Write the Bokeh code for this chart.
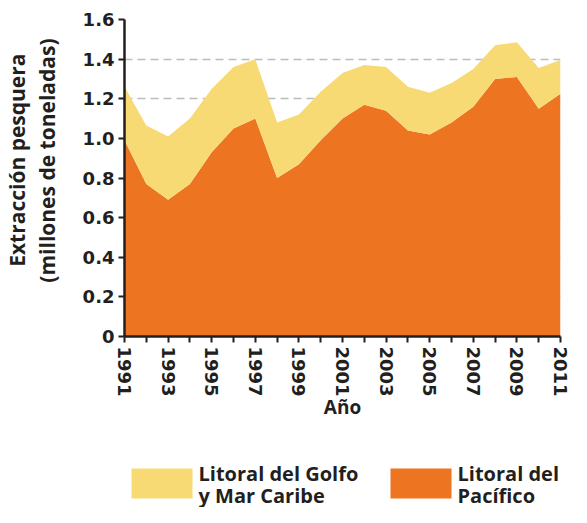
from bokeh.plotting import figure
from bokeh.models import Range1d, FixedTicker, Title
from bokeh.layouts import column
from bokeh.embed import file_html
from bokeh.resources import INLINE
from bokeh.core.properties import value

# ---------------- data ----------------
years = list(range(1991, 2012))
pacifico = [0.99, 0.77, 0.69, 0.77, 0.93, 1.05, 1.10, 0.80, 0.87, 0.99, 1.10,
            1.17, 1.14, 1.04, 1.02, 1.08, 1.16, 1.30, 1.31, 1.15, 1.225]
golfo = [0.27, 0.295, 0.32, 0.33, 0.32, 0.31, 0.30, 0.28, 0.25, 0.245, 0.23,
         0.20, 0.22, 0.22, 0.21, 0.20, 0.19, 0.17, 0.175, 0.205, 0.17]
y_ticks = [0, 0.2, 0.4, 0.6, 0.8, 1.0, 1.2, 1.4, 1.6]
y_tick_labels = ["0", "0.2", "0.4", "0.6", "0.8", "1.0", "1.2", "1.4", "1.6"]
series_names = [["Litoral del Golfo", "y Mar Caribe"], ["Litoral del", "Pacífico"]]
series_colors = ["#F8DA75", "#ED7521"]
y_title = ["Extracción pesquera", "(millones de toneladas)"]
x_title = "Año"

# ---------------- layout constants ----------------
W = 571
H1, H2 = 424, 83
BL, FW = 124, 436
BR = W - BL - FW
BT = 19
BB = 88
DARK = "#231F20"

total = [a + b for a, b in zip(pacifico, golfo)]
zeros = [0] * len(years)

p = figure(width=W, height=H1, output_backend="svg", toolbar_location=None,
           x_range=Range1d(years[0], years[-1]), y_range=Range1d(0, 1.6),
           min_border_left=BL, min_border_right=BR, min_border_top=BT,
           min_border_bottom=BB)
p.outline_line_color = None

p.varea(x=years, y1=zeros, y2=pacifico, fill_color=series_colors[1])
p.varea(x=years, y1=pacifico, y2=total, fill_color=series_colors[0])

# grid
p.xgrid.grid_line_color = None
p.ygrid.ticker = FixedTicker(ticks=y_ticks[1:])
p.ygrid.grid_line_color = "#BDBDBD"
p.ygrid.grid_line_width = 1.5
p.ygrid.grid_line_dash = "8 5"

for ax in (p.xaxis, p.yaxis):
    ax.minor_tick_line_color = None
    ax.major_tick_out = 6
    ax.major_tick_in = 0
    ax.major_tick_line_width = 2
    ax.major_tick_line_color = DARK
    ax.axis_line_width = 2.5
    ax.axis_line_color = DARK
    ax.major_label_text_font = "DejaVu Sans"
    ax.major_label_text_font_style = "bold"
    ax.major_label_text_font_size = "18px"
    ax.major_label_text_color = DARK
    ax.major_label_standoff = 4

p.yaxis.ticker = FixedTicker(ticks=y_ticks)
p.yaxis.major_label_overrides = {t: l for t, l in zip(y_ticks, y_tick_labels)}

p.xaxis.ticker = FixedTicker(ticks=years)
p.xaxis.major_label_overrides = {y: (str(y) if (y - years[0]) % 2 == 0 else "") for y in years}
p.xaxis.major_label_orientation = "vertical"
p.xaxis.axis_label = x_title
p.xaxis.axis_label_text_font = "Open Sans"
p.xaxis.axis_label_text_font_style = "bold"
p.xaxis.axis_label_text_font_size = "19px"
p.xaxis.axis_label_text_color = DARK
p.xaxis.axis_label_standoff = -6

# y title: spacer, then two titles in the left panel (inner line first)
p.add_layout(Title(text="\u00a0", text_font_size="1px", standoff=16), "left")
for txt, off in [(y_title[1], 19), (y_title[0], 34)]:
    t = Title(text=txt, align="right", offset=off, standoff=0,
              text_font="Open Sans", text_font_style="bold",
              text_font_size="21px", text_color=DARK)
    p.add_layout(t, "left")

# ---------------- legend figure (frame aligned with main frame) ----------------
leg = figure(width=W, height=H2, output_backend="svg", toolbar_location=None,
             x_range=Range1d(BL, BL + FW), y_range=Range1d(0, H2),
             min_border=0)
leg.axis.visible = False
leg.grid.visible = False
leg.outline_line_color = None

sw_left = [131, 390]
for k in range(2):
    leg.quad(left=sw_left[k], right=sw_left[k] + 61, bottom=9, top=39,
             fill_color=series_colors[k], line_color=None)
    leg.text(x=[sw_left[k] + 67] * 2, y=[34, 12], text=series_names[k],
             text_font=value("Open Sans"), text_font_style="bold",
             text_font_size="20px", text_color=DARK, text_baseline="alphabetic")

layout = column(p, leg)
open("out.html", "w").write(file_html(layout, INLINE))
